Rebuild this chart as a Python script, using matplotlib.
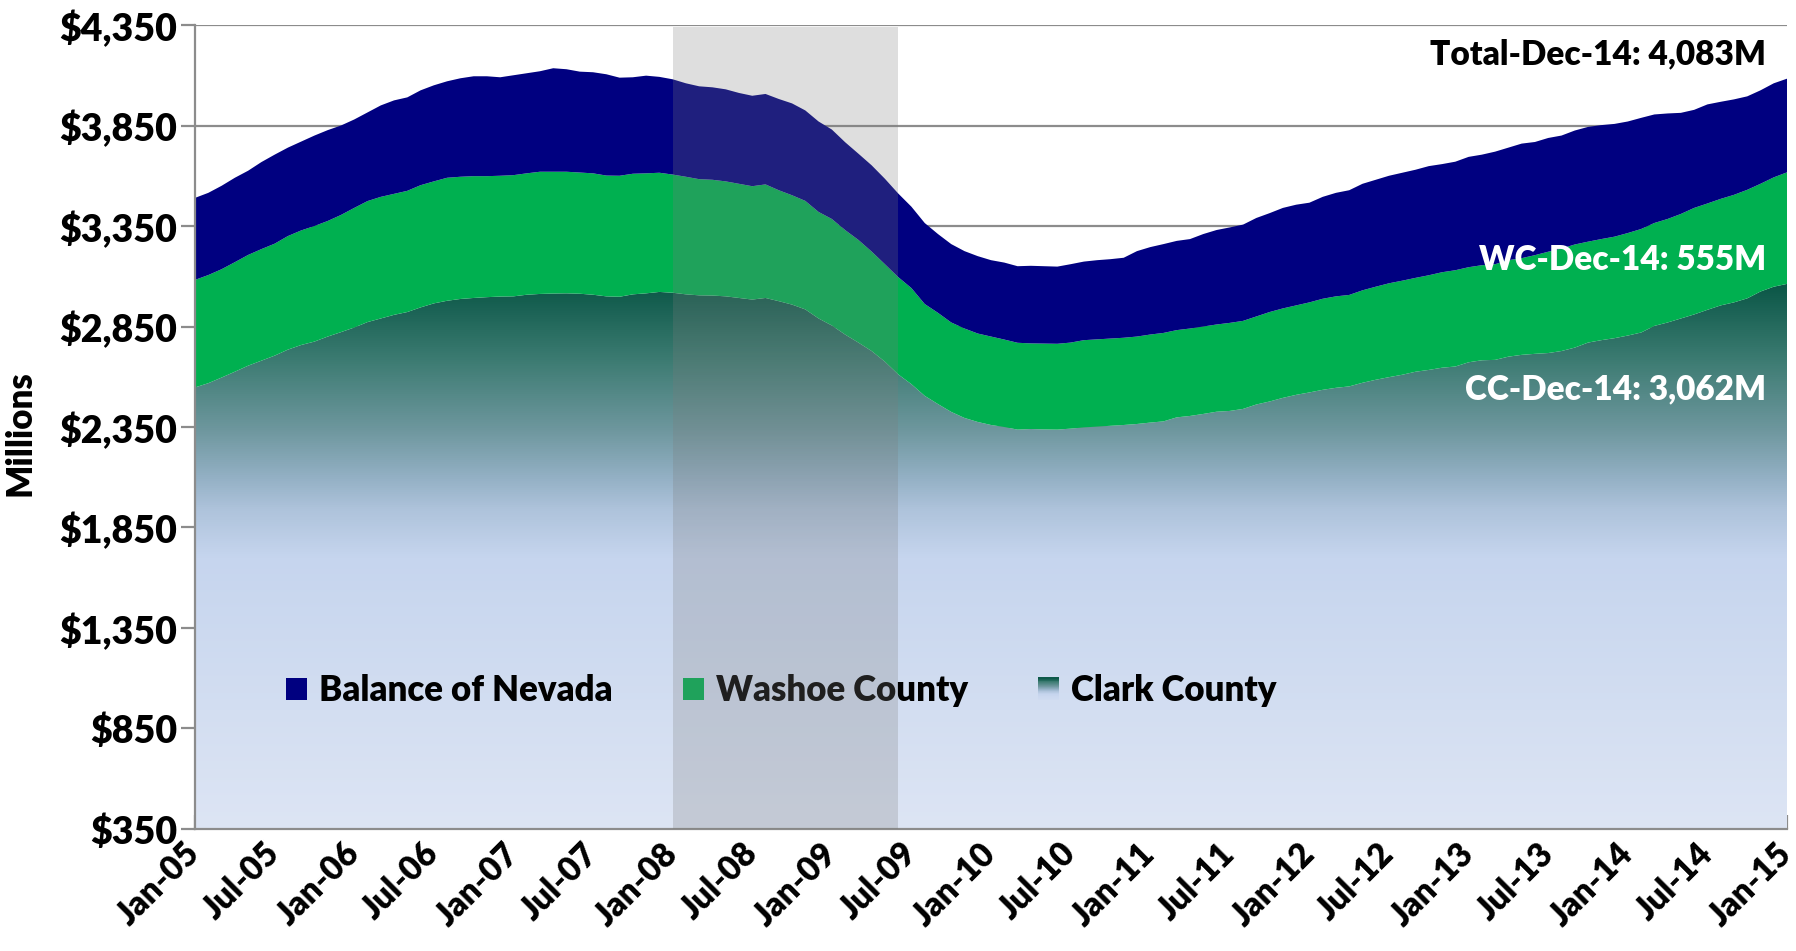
import numpy as np
import matplotlib
matplotlib.use("Agg")
import matplotlib.pyplot as plt
from matplotlib.colors import LinearSegmentedColormap
from matplotlib.patches import Rectangle
from matplotlib.legend_handler import HandlerBase

plt.rcParams['font.family'] = ['Lato', 'DejaVu Sans']
plt.rcParams['font.weight'] = 'heavy'

# monthly values, Jan-05 .. Jan-15 (121 points), millions of dollars
clark = [2547, 2568, 2596, 2625, 2655, 2680, 2705, 2735, 2758, 2775,
         2800, 2822, 2845, 2872, 2890, 2908, 2922, 2945, 2965, 2978,
         2987, 2992, 2996, 2999, 3000, 3008, 3012, 3014, 3015, 3013,
         3008, 3000, 2998, 3010, 3015, 3022, 3018, 3010, 3005, 3004,
         3000, 2992, 2984, 2992, 2976, 2959, 2935, 2890, 2855, 2810,
         2770, 2728, 2675, 2612, 2563, 2505, 2464, 2425, 2395, 2375,
         2360, 2350, 2337, 2340, 2338, 2337, 2342, 2348, 2352, 2356,
         2360, 2365, 2372, 2378, 2398, 2405, 2415, 2426, 2430, 2440,
         2462, 2477, 2495, 2510, 2522, 2535, 2545, 2552, 2570, 2585,
         2598, 2610, 2625, 2634, 2645, 2651, 2672, 2682, 2684, 2700,
         2709, 2714, 2718, 2728, 2745, 2770, 2782, 2792, 2805, 2820,
         2853, 2870, 2890, 2910, 2933, 2955, 2970, 2990, 3024, 3048,
         3062]
washoe = [535, 538, 539, 545, 551, 555, 557, 565, 570, 575,
          575, 583, 595, 602, 605, 602, 603, 608, 607, 612,
          608, 606, 602, 601, 603, 604, 608, 606, 605, 603,
          604, 601, 602, 600, 597, 593, 588, 585, 578, 576,
          572, 568, 564, 565, 552, 544, 540, 530, 530, 520,
          511, 495, 485, 484, 478, 457, 454, 445, 445, 440,
          440, 435, 432, 426, 427, 427, 428, 434, 434, 434,
          434, 435, 438, 440, 434, 435, 435, 434, 438, 438,
          438, 445, 445, 445, 448, 453, 455, 455, 460, 463,
          467, 468, 467, 471, 475, 479, 473, 473, 476, 480,
          481, 491, 504, 510, 513, 502, 503, 505, 510, 515,
          512, 515, 520, 530, 529, 530, 535, 540, 536, 544,
          555]
balance = [408, 409, 415, 420, 419, 433, 443, 440, 442, 450,
           452, 445, 440, 441, 455, 465, 465, 472, 478, 480,
           490, 497, 497, 490, 497, 498, 500, 515, 510, 502,
           503, 504, 488, 480, 486, 477, 474, 465, 462, 460,
           458, 452, 450, 450, 454, 457, 450, 450, 445, 437,
           429, 429, 425, 416, 405, 403, 392, 390, 385, 385,
           380, 383, 381, 386, 385, 384, 390, 391, 394, 395,
           398, 425, 435, 442, 444, 445, 460, 470, 475, 479,
           490, 492, 500, 501, 496, 507, 515, 521, 530, 532,
           535, 537, 538, 543, 538, 540, 549, 550, 560, 560,
           570, 563, 566, 562, 567, 571, 567, 561, 555, 553,
           540, 525, 503, 488, 493, 483, 475, 465, 465, 468,
           466]

tick_labels = ['Jan-05', 'Jul-05', 'Jan-06', 'Jul-06', 'Jan-07', 'Jul-07',
               'Jan-08', 'Jul-08', 'Jan-09', 'Jul-09', 'Jan-10', 'Jul-10',
               'Jan-11', 'Jul-11', 'Jan-12', 'Jul-12', 'Jan-13', 'Jul-13',
               'Jan-14', 'Jul-14', 'Jan-15']
recession = (36, 53)   # Jan-08 .. Jun-09

x = np.arange(len(clark))
c = np.array(clark)
cw = c + np.array(washoe)
tot = cw + np.array(balance)

navy = '#000080'
green = '#00B050'
gray = '#8C8C8C'
ymin, ymax = 350, 4350

# vertical gradient for Clark County (value -> colour)
stops = [(350, '#DDE5F4'), (1700, '#C6D5EE'), (1940, '#AEC3DB'),
         (2100, '#93B0C4'), (2335, '#6E979E'), (2700, '#3A7A70'),
         (3062, '#0A5646')]
glo, ghi = stops[0][0], stops[-1][0]
cmap = LinearSegmentedColormap.from_list(
    'clark', [((v - glo) / (ghi - glo), col) for v, col in stops])

fig = plt.figure(figsize=(17.96, 9.51), dpi=100)
ax = fig.add_axes([0.1086, 0.1283, 0.8864, 0.8454])

clark_poly = ax.fill_between(x, 0, c, facecolor='none', linewidth=0)
grad = np.linspace(0, 1, 512).reshape(-1, 1)
im = ax.imshow(grad, cmap=cmap, origin='lower', aspect='auto',
               extent=[x[0], x[-1], glo, ghi], zorder=1)
im.set_clip_path(clark_poly.get_paths()[0], transform=ax.transData)
ax.fill_between(x, c, cw, facecolor=green, linewidth=0, zorder=1)
ax.fill_between(x, cw, tot, facecolor=navy, linewidth=0, zorder=1)

# recession shading on top of everything in the plot
ax.fill_between(recession, ymin, ymax - 12, facecolor=(0.486, 0.486, 0.486),
                alpha=0.25, linewidth=0, zorder=6)

ax.set_xlim(x[0], x[-1])
ax.set_ylim(ymin, ymax)
ax.set_yticks(np.arange(ymin, ymax + 1, 500))
ax.set_yticklabels(['${:,.0f}'.format(v) for v in np.arange(ymin, ymax + 1, 500)])
ax.set_xticks(np.arange(0, len(clark), 6))
ax.set_xticklabels(tick_labels, rotation=45, ha='right', va='center',
                   rotation_mode='anchor')

ax.set_axisbelow(True)
ax.yaxis.grid(True, color=gray, linewidth=1.6)
for s in ['top', 'right']:
    ax.spines[s].set_visible(False)
for s in ['left', 'bottom']:
    ax.spines[s].set_color(gray)
    ax.spines[s].set_linewidth(1.6)
ax.tick_params(axis='y', direction='out', length=10, width=1.6, color=gray,
               labelsize=27, pad=3)
ax.tick_params(axis='x', direction='in', length=10, width=1.6, color=gray,
               labelsize=24, pad=14)

fig.text(0.011, 0.545, 'Millions', rotation=90, ha='center', va='center',
         fontsize=25)

ax.text(0.987, 0.964, 'Total-Dec-14: 4,083M', transform=ax.transAxes,
        ha='right', va='center', fontsize=24, color='black')
ax.text(0.987, 0.708, 'WC-Dec-14: 555M', transform=ax.transAxes,
        ha='right', va='center', fontsize=24, color='white')
ax.text(0.987, 0.547, 'CC-Dec-14: 3,062M', transform=ax.transAxes,
        ha='right', va='center', fontsize=24, color='white')


class GradientHandler(HandlerBase):
    def create_artists(self, legend, orig_handle, xdescent, ydescent,
                       width, height, fontsize, trans):
        n = 24
        parts = []
        for i in range(n):
            col = cmap(0.3 + 0.7 * (i + 0.5) / n)
            parts.append(Rectangle((-xdescent, -ydescent + height * i / n),
                                   width, height / n + 0.3, facecolor=col,
                                   edgecolor='none', transform=trans))
        return parts


h_bal = Rectangle((0, 0), 1, 1, facecolor=navy, edgecolor='none')
h_wc = Rectangle((0, 0), 1, 1, facecolor=green, edgecolor='none')
h_cc = Rectangle((0, 0), 1, 1, facecolor='white', edgecolor='none')
leg = ax.legend([h_bal, h_wc, h_cc], ['Balance of Nevada', 'Washoe County', 'Clark County'],
                handler_map={h_cc: GradientHandler()}, ncol=3, frameon=False,
                loc='center left', bbox_to_anchor=(0.057, 0.172),
                fontsize=25, handlelength=0.62, handleheight=0.62,
                handletextpad=0.35, columnspacing=2.0, borderpad=0,
                borderaxespad=0)
leg.set_zorder(5)

fig.savefig('out.png', dpi=100)
